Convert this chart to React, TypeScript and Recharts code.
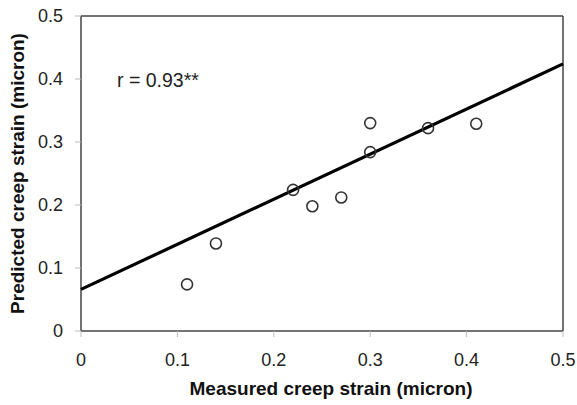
import { ScatterChart, Scatter, XAxis, YAxis, ReferenceLine, Label } from 'recharts';

const measured = [0.11, 0.14, 0.22, 0.24, 0.27, 0.3, 0.3, 0.36, 0.41];
const predicted = [0.074, 0.139, 0.224, 0.198, 0.212, 0.33, 0.284, 0.322, 0.329];
const fitX = [0, 0.5];
const fitY = [0.066, 0.424];
const ticks = [0, 0.1, 0.2, 0.3, 0.4, 0.5];

const points = measured.map((x, i) => ({ x, y: predicted[i] }));
const fitLine = fitX.map((x, i) => ({ x, y: fitY[i] }));

const FONT = 'Arial, "Liberation Sans", Helvetica, sans-serif';
const tickStyle = { fontSize: 18, fill: '#222', fontFamily: FONT };

const OpenCircle = (props: any) => (
  <circle cx={props.cx} cy={props.cy} r={5.5} fill="none" stroke="#333" strokeWidth={1.6} />
);

export default function App() {
  return (
    <div style={{ position: 'absolute', left: 0, top: 0, width: 577, height: 405, background: '#fff' }}>
      <ScatterChart width={577} height={405} margin={{ top: 16, right: 14, left: 21, bottom: 24 }}>
        <XAxis
          type="number"
          dataKey="x"
          domain={[0, 0.5]}
          ticks={ticks}
          tickFormatter={(v) => String(v)}
          tick={tickStyle}
          tickSize={6}
          tickMargin={16}
          tickLine={{ stroke: '#bbb' }}
          axisLine={{ stroke: '#444', strokeWidth: 1.5 }}
          height={50}
        >
          <Label
            value="Measured creep strain (micron)"
            position="insideBottom"
            offset={-14}
            dx={9}
            style={{ fontSize: 19, fontWeight: 'bold', fill: '#111', fontFamily: FONT }}
          />
        </XAxis>
        <YAxis
          type="number"
          dataKey="y"
          domain={[0, 0.5]}
          ticks={ticks}
          tickFormatter={(v) => String(v)}
          tick={tickStyle}
          tickSize={6}
          tickMargin={12}
          tickLine={{ stroke: '#bbb' }}
          axisLine={{ stroke: '#444', strokeWidth: 1.5 }}
          width={60}
        >
          <Label
            value="Predicted creep strain (micron)"
            angle={-90}
            position="insideLeft"
            offset={-4}
            style={{ textAnchor: 'middle', fontSize: 19, fontWeight: 'bold', fill: '#111', fontFamily: FONT }}
          />
        </YAxis>
        <ReferenceLine y={0.5} stroke="#444" strokeWidth={1.5} />
        <ReferenceLine x={0.5} stroke="#444" strokeWidth={1.5} />
        <Scatter
          data={fitLine}
          line={{ stroke: '#000', strokeWidth: 3.2 }}
          shape={() => <g />}
          isAnimationActive={false}
        />
        <Scatter data={points} shape={OpenCircle} isAnimationActive={false} />
      </ScatterChart>
      <div
        style={{
          position: 'absolute',
          left: 117,
          top: 69,
          fontSize: 19.5,
          fontFamily: FONT,
          color: '#222',
          lineHeight: '22px',
        }}
      >
        r = 0.93**
      </div>
    </div>
  );
}
